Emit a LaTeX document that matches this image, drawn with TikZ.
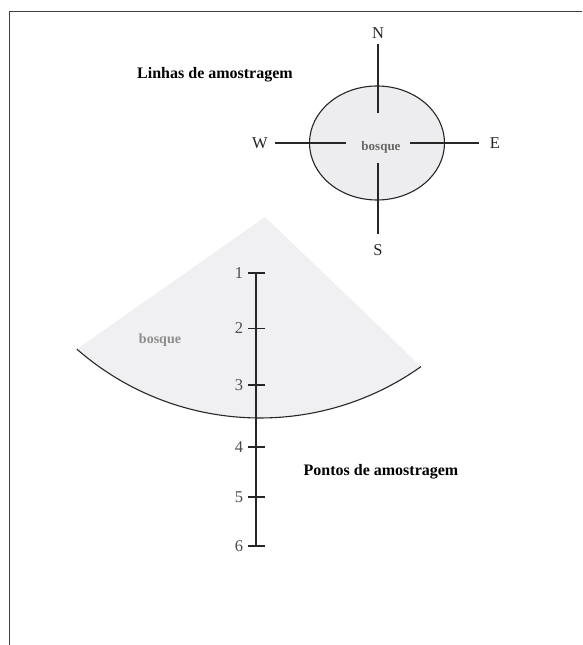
\documentclass[tikz,border=0pt]{standalone}
\usepackage{fontspec}
\setmainfont{Liberation Serif}
\usetikzlibrary{calc}
\begin{document}
\begin{tikzpicture}[x=1pt,y=1pt,
  lbl/.style={font=\fontsize{16.5}{17}\selectfont, text=black!85, inner sep=0pt},
  title/.style={font=\bfseries\fontsize{16}{17}\selectfont, inner sep=0pt},
  wood/.style={font=\bfseries\fontsize{13}{14}\selectfont, inner sep=0pt},
  num/.style={font=\fontsize{16.5}{17}\selectfont, text=black!70, inner sep=0pt},
  ln/.style={line width=1.1pt, black!85}]
\useasboundingbox (0,0) rectangle (582,645);
\fill[white] (0,0) rectangle (582,645);
% frame
\draw[line width=0.9pt, black!75] (582,634) -- (9,634) -- (9,0);
% compass
\draw[ln, fill=blue!15!black!7] (377,502) ellipse [x radius=67.5, y radius=57];
\node[lbl] (N) at (378,612) {N};
\node[lbl] (W) at (260,502) {W};
\node[lbl] (E) at (495,502) {E};
\node[lbl] (S) at (378,395) {S};
\node[wood, text=black!60] (b1) at (381,498) {bosque};
\coordinate (n1) at (378,600.5); \coordinate (n2) at (378,532);
\coordinate (w1) at (275,502); \coordinate (w2) at (346,502);
\coordinate (e1) at (410,502); \coordinate (e2) at (479,502);
\coordinate (s1) at (378,482); \coordinate (s2) at (378,411);
\draw[ln] (n1) -- (n2);
\draw[ln] (w1) -- (w2);
\draw[ln] (e1) -- (e2);
\draw[ln] (s1) -- (s2);
\node[title] (t1) at (215,570) {Linhas de amostragem};
% sector
\coordinate (apex) at (265,428);
\coordinate (c) at (260,505);
\fill[blue!20!black!6] (apex) -- ($(c)+(-131.2:278)$) arc[start angle=-131.2, end angle=-54.6, radius=278] -- cycle;
\draw[ln] ($(c)+(-131.2:278)$) arc[start angle=-131.2, end angle=-54.6, radius=278];
\node[wood, text=black!45, font=\bfseries\fontsize{14}{15}\selectfont] (b2) at (160,305) {bosque};
% scale
\coordinate (top) at (256,372); \coordinate (bot) at (256,99);
\draw[ln] (top) -- (bot);
\foreach \i/\y in {1/372,2/316.5,3/260,4/198,5/148,6/99}{
  \draw[ln] (248,\y) -- (265,\y);
  \node[num] (p\i) at (239,\y) {\i};
}
\node[title] (t2) at (381,173) {Pontos de amostragem};
\end{tikzpicture}
\end{document}
